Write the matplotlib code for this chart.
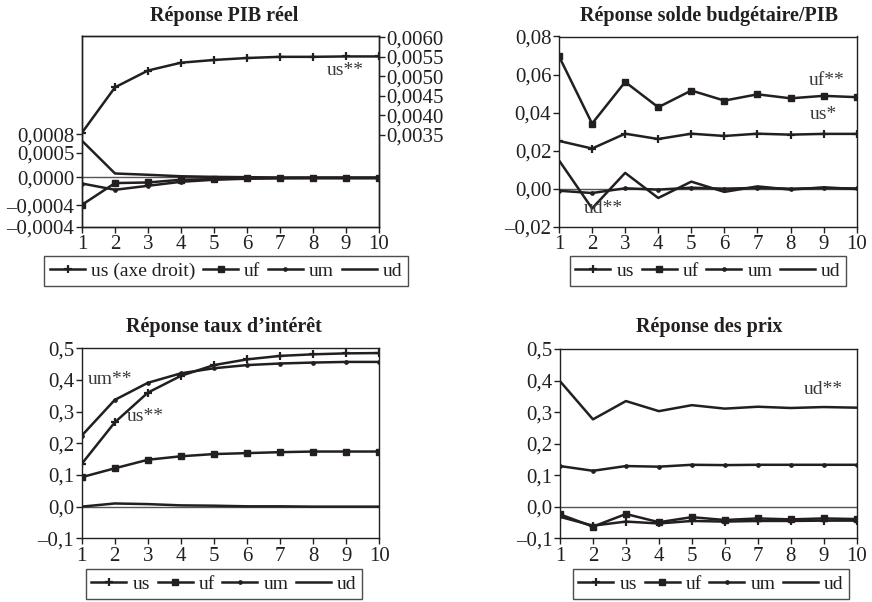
import matplotlib
matplotlib.use("Agg")
import matplotlib.pyplot as plt

plt.rcParams['font.family'] = ['Liberation Serif', 'DejaVu Serif']

W, H = 872, 602
INK = '#231f20'

periods = list(range(1, 11))

# Panel 1: Réponse PIB réel (us on right axis)
pib_us = [0.00356, 0.00472, 0.00515, 0.00535, 0.00542, 0.00547, 0.00550, 0.00550, 0.00551, 0.00551]
pib_uf = [-0.000444, -0.000091, -0.000081, -0.000037, -0.000026, -0.000013, -0.00001, -0.00001, -0.00001, -0.00001]
pib_um = [-0.000098, -0.00020, -0.000135, -0.00007, -0.000037, -0.00002, -0.000012, -0.00001, -0.00001, -0.00001]
pib_ud = [0.000597, 0.000065, 0.000044, 0.00002, 0.00001, 0.000005, 0.0, 0.0, 0.0, 0.0]
pib_left_ticks = [-0.0008, -0.00045, 0.0, 0.0004, 0.0007]
pib_left_labels = ['–0,0004', '–0,0004', '0,0000', '0,0005', '0,0008']
pib_right_ticks = [0.0035, 0.0040, 0.0045, 0.0050, 0.0055, 0.0060]
pib_right_labels = ['0,0035', '0,0040', '0,0045', '0,0050', '0,0055', '0,0060']

# Panel 2: Réponse solde budgétaire/PIB
sol_us = [0.0251, 0.0211, 0.0289, 0.0261, 0.0289, 0.0277, 0.0289, 0.0284, 0.0288, 0.0288]
sol_uf = [0.0696, 0.0342, 0.0561, 0.0428, 0.0516, 0.0463, 0.0496, 0.0475, 0.0488, 0.0481]
sol_um = [-0.0011, -0.0023, 0.0002, -0.0005, 0.0005, 0.0, 0.0004, 0.0, 0.0003, 0.0001]
sol_ud = [0.0149, -0.0104, 0.0083, -0.0049, 0.0037, -0.0017, 0.0012, -0.0005, 0.0007, -0.0002]
sol_ticks = [-0.02, 0.0, 0.02, 0.04, 0.06, 0.08]
sol_labels = ['–0,02', '0,00', '0,02', '0,04', '0,06', '0,08']

# Panel 3: Réponse taux d'intérêt
tx_us = [0.135, 0.266, 0.360, 0.413, 0.447, 0.465, 0.476, 0.481, 0.484, 0.485]
tx_uf = [0.093, 0.121, 0.148, 0.159, 0.166, 0.169, 0.172, 0.174, 0.174, 0.174]
tx_um = [0.224, 0.337, 0.391, 0.421, 0.437, 0.447, 0.452, 0.455, 0.457, 0.457]
tx_ud = [0.0, 0.010, 0.008, 0.004, 0.003, 0.001, 0.001, 0.0, 0.0, 0.0]

# Panel 4: Réponse des prix
px_us = [-0.032, -0.060, -0.047, -0.053, -0.045, -0.047, -0.045, -0.045, -0.044, -0.044]
px_uf = [-0.024, -0.063, -0.023, -0.049, -0.033, -0.042, -0.037, -0.040, -0.037, -0.039]
px_um = [0.129, 0.114, 0.129, 0.127, 0.133, 0.132, 0.133, 0.133, 0.133, 0.133]
px_ud = [0.398, 0.277, 0.335, 0.303, 0.322, 0.311, 0.317, 0.313, 0.316, 0.314]

rate_ticks = [-0.1, 0.0, 0.1, 0.2, 0.3, 0.4, 0.5]
rate_labels = ['–0,1', '0,0', '0,1', '0,2', '0,3', '0,4', '0,5']

fig = plt.figure(figsize=(W / 100, H / 100), dpi=100)

def add_ax(x0, y0, x1, y1):
    return fig.add_axes([x0 / W, 1 - y1 / H, (x1 - x0) / W, (y1 - y0) / H])

LW = 1.8
styles = {
    'us': dict(marker='+', ms=5.5, mew=1.6),
    'uf': dict(marker='s', ms=4.5, mew=1.0),
    'um': dict(marker='o', ms=2.8, mew=0.5),
    'ud': dict(marker=None),
}

def plot_series(ax, y, key, lw=LW):
    st = styles[key]
    return ax.plot(periods, y, color=INK, lw=lw, mfc=INK, mec=INK, label=key, **st)[0]

def style_axis(ax, ylim, ticks, labels):
    ax.set_xlim(1, 10)
    ax.set_ylim(*ylim)
    ax.set_xticks(periods)
    ax.set_xticklabels([str(p) for p in periods], fontsize=15, color=INK)
    ax.set_yticks(ticks)
    ax.set_yticklabels(labels, fontsize=15, color=INK)
    ax.tick_params(axis='both', direction='out', length=4, width=1, color=INK, pad=1.5)
    ax.tick_params(axis='x', pad=2)
    for s in ax.spines.values():
        s.set_color(INK)
        s.set_linewidth(1.0)
    ax.axhline(0, color='#555555', lw=1.0, zorder=1)

def legend(ax, handles, labels, cx, cy):
    leg = ax.legend(handles, labels, loc='center', bbox_to_anchor=(cx / W, 1 - cy / H),
                    bbox_transform=fig.transFigure, ncol=4, fontsize=14, frameon=True,
                    fancybox=False, edgecolor=INK, handlelength=1.8, handletextpad=0.3,
                    columnspacing=0.4, borderpad=0.3, numpoints=1, borderaxespad=0)
    leg.get_frame().set_linewidth(1.0)
    for t in leg.get_texts():
        t.set_color(INK)
    return leg

def title(x, y, s):
    fig.text(x / W, 1 - y / H, s, ha='center', va='baseline', fontsize=14.5,
             fontweight='bold', color=INK)

ann = dict(fontsize=14, color='#3a3a3a', ha='center', va='center')

# ---- Panel 1
ax1 = add_ax(82, 36, 379, 226.7)
style_axis(ax1, (-0.0008, 0.0023), pib_left_ticks, pib_left_labels)
h_uf = plot_series(ax1, pib_uf, 'uf')
h_um = plot_series(ax1, pib_um, 'um')
h_ud = plot_series(ax1, pib_ud, 'ud')
ax1b = ax1.twinx()
ax1b.set_ylim(0.001154, 0.006033)
ax1b.set_yticks(pib_right_ticks)
ax1b.set_yticklabels(pib_right_labels, fontsize=15, color=INK)
ax1b.tick_params(axis='y', direction='out', length=4, width=1, color=INK, pad=1.5)
for s in ax1b.spines.values():
    s.set_color(INK)
    s.set_linewidth(1.0)
h_us = plot_series(ax1b, pib_us, 'us')
ax1b.text(8.97, 0.00514, 'us**', **ann)
legend(ax1, [h_us, h_uf, h_um, h_ud], ['us (axe droit)', 'uf', 'um', 'ud'], 226, 271)
title(224, 21, 'Réponse PIB réel')

# ---- Panel 2
ax2 = add_ax(559, 36.5, 856.7, 226.7)
style_axis(ax2, (-0.02, 0.08), sol_ticks, sol_labels)
hs = [plot_series(ax2, sol_us, 'us'), plot_series(ax2, sol_uf, 'uf'),
      plot_series(ax2, sol_um, 'um'), plot_series(ax2, sol_ud, 'ud')]
ax2.text(9.09, 0.057, 'uf**', **ann)
ax2.text(8.98, 0.039, 'us*', **ann)
ax2.text(2.33, -0.0105, 'ud**', **ann)
legend(ax2, hs, ['us', 'uf', 'um', 'ud'], 708, 271)
title(709, 21, 'Réponse solde budgétaire/PIB')

# ---- Panel 3
ax3 = add_ax(81.7, 348.3, 379.3, 538.3)
style_axis(ax3, (-0.1, 0.5), rate_ticks, rate_labels)
hs = [plot_series(ax3, tx_us, 'us'), plot_series(ax3, tx_uf, 'uf'),
      plot_series(ax3, tx_um, 'um'), plot_series(ax3, tx_ud, 'ud')]
ax3.text(1.86, 0.40, 'um**', **ann)
ax3.text(2.93, 0.286, 'us**', **ann)
legend(ax3, hs, ['us', 'uf', 'um', 'ud'], 224, 584)
title(224, 331.7, 'Réponse taux d’intérêt')

# ---- Panel 4
ax4 = add_ax(560, 349, 856.7, 538.3)
style_axis(ax4, (-0.1, 0.5), rate_ticks, rate_labels)
hs = [plot_series(ax4, px_us, 'us'), plot_series(ax4, px_uf, 'uf'),
      plot_series(ax4, px_um, 'um'), plot_series(ax4, px_ud, 'ud')]
ax4.text(8.98, 0.371, 'ud**', **ann)
legend(ax4, hs, ['us', 'uf', 'um', 'ud'], 711, 584)
title(709, 331.7, 'Réponse des prix')

fig.savefig('out.png', dpi=100)
